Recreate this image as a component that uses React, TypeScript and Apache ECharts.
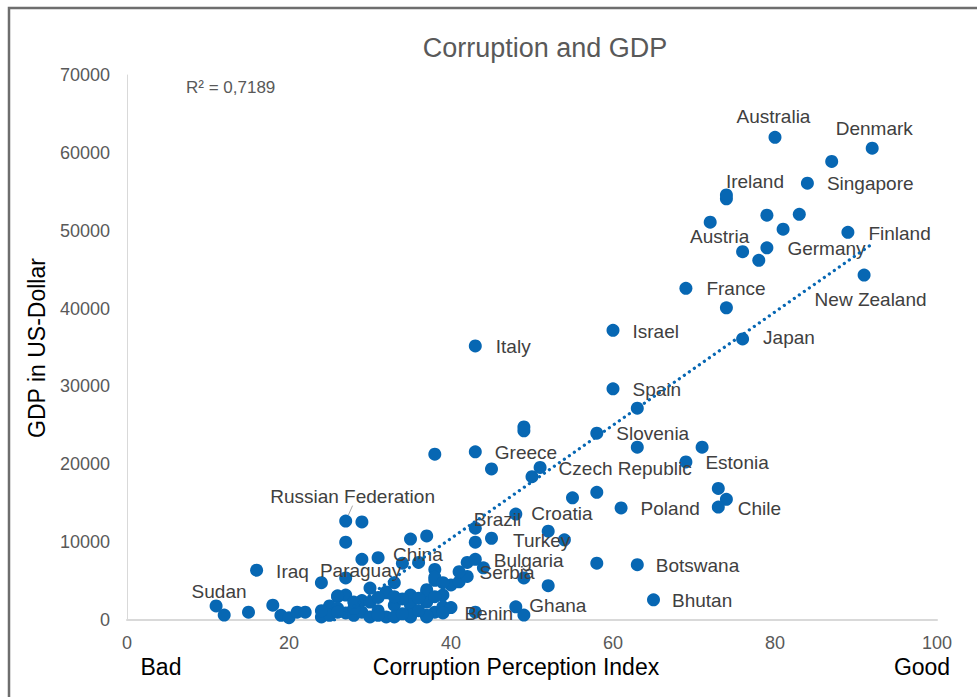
import React, { useEffect, useRef } from "react";
import * as echarts from "echarts";

// ---------- DATA ----------
const TITLE = "Corruption and GDP";
const R2_TEXT = "R² = 0,7189";
const X_NAME = "Corruption Perception Index";
const Y_NAME = "GDP in US-Dollar";
const X_LOW = "Bad";
const X_HIGH = "Good";

// labelled countries: [CPI, GDP per capita]
const labelledNames = [
  "Australia", "Denmark", "Singapore", "Ireland", "Austria", "Germany", "Finland",
  "New Zealand", "France", "Japan", "Israel", "Italy", "Spain", "Slovenia", "Greece",
  "Czech Republic", "Estonia", "Chile", "Poland", "Croatia", "Brazil", "Turkey",
  "Bulgaria", "Serbia", "Botswana", "Bhutan", "Ghana", "Benin", "China", "Paraguay",
  "Iraq", "Sudan", "Russian Federation",
];
const labelledCPI = [
  80, 92, 84, 74, 76, 79, 89,
  91, 69, 76, 60, 43, 60, 58, 43,
  51, 69, 73, 61, 48, 43, 45,
  43, 41, 63, 65, 48, 39, 36, 24,
  16, 11, 27,
];
const labelledGDP = [
  62000, 60600, 56100, 54600, 47300, 47800, 49800,
  44300, 42600, 36100, 37200, 35200, 29700, 24000, 21600,
  19600, 20300, 14500, 14400, 13600, 11800, 10500,
  7800, 6200, 7100, 2600, 1700, 900, 7400, 4800,
  6400, 1800, 12700,
];

// other countries (unlabelled)
const otherCPI = [
  87, 74, 72, 79, 83, 81, 78, 74, 63, 49, 49, 63, 71, 38, 45, 50, 73, 74, 58, 55,
  52, 54, 43, 42, 44, 49, 58, 52, 49, 43, 29, 27, 29, 31, 27, 30, 26, 27, 12, 15,
  18, 19, 20, 21, 22, 24, 25, 26, 35, 37, 34, 38, 38, 33, 32, 35, 37, 39, 40, 29,
  30, 33, 35, 37, 38, 39, 27, 28, 29, 30, 32, 35, 37, 37, 38, 32, 37, 39, 38, 39,
  35, 37, 33, 26, 25, 28, 31, 34, 36, 31, 33, 26, 28, 36, 34, 31, 40, 41, 42, 24,
];
const otherGDP = [
  58900, 54100, 51100, 52000, 52100, 50200, 46200, 40100, 27200, 24800, 24300, 22200, 22200, 21300, 19400, 18400, 16900, 15500, 16400, 15700,
  11400, 10300, 10000, 7400, 6700, 5400, 7300, 4400, 640, 1000, 12600, 10000, 7800, 8000, 5400, 4100, 3000, 3200, 640, 1000,
  1900, 600, 300, 1000, 1000, 400, 1800, 3100, 10400, 10800, 7300, 6500, 5100, 4800, 3600, 3200, 3600, 3200, 4500, 2500,
  2300, 1900, 1900, 2300, 1000, 1300, 900, 600, 1000, 400, 400, 400, 500, 400, 5500, 3500, 3900, 4800, 3000, 1700,
  600, 600, 400, 1500, 600, 1500, 1200, 2700, 2800, 2900, 3000, 1000, 2300, 1200, 800, 600, 1600, 4900, 5600, 1200,
];

// linear trendline endpoints
const trendCPI = [25.6, 92];
const trendGDP = [0, 48300];

const xTicks = { min: 0, max: 100, interval: 20 };
const yTicks = { min: 0, max: 70000, interval: 10000 };

// ---------- STYLE / LAYOUT ----------
const BLUE = "#0767b3";
const LABEL_FONT = "'Liberation Sans', Arial, sans-serif";
// label shifts (px) relative to the default "right" label position
const labelOffsets: Record<string, [number, number]> = {
  Australia: [-50, -21],
  Denmark: [-48, -20],
  Singapore: [8, 0],
  Ireland: [-12, -13],
  Austria: [-64, -15],
  Germany: [9, 1],
  Finland: [9, 1],
  "New Zealand": [-61, 24],
  France: [9, 0],
  Japan: [9, -1],
  Israel: [8, 1],
  Italy: [9, 1],
  Spain: [8, 1],
  Slovenia: [8, 0],
  Greece: [8, 1],
  "Czech Republic": [7, 1],
  Estonia: [8, 1],
  Chile: [8, 1],
  Poland: [8, 1],
  Croatia: [4, -1],
  Brazil: [-13, -9],
  Turkey: [10, 2],
  Bulgaria: [7, 1],
  Serbia: [9, 1],
  Botswana: [7, 1],
  Bhutan: [7, 1],
  Ghana: [2, -1],
  Benin: [10, 1],
  China: [-37, -8],
  Paraguay: [-13, -12],
  Iraq: [8, 1],
  Sudan: [-36, -14],
  "Russian Federation": [-87, -25],
};
const LEADER_NAME = "Russian Federation";

export default function App() {
  const ref = useRef<HTMLDivElement>(null);

  useEffect(() => {
    if (!ref.current) return;
    const chart = echarts.init(ref.current, undefined, { renderer: "svg" });

    const labelled = labelledNames.map((name, i) => ({
      name,
      value: [labelledCPI[i], labelledGDP[i]],
      label: {
        show: true,
        position: "right",
        distance: 5,
        formatter: name,
        color: "#404040",
        fontSize: 19,
        fontFamily: LABEL_FONT,
      },
      labelLine:
        name === LEADER_NAME
          ? { show: true, length2: 0, lineStyle: { color: "#a6a6a6", width: 1 } }
          : undefined,
    }));
    const others = otherCPI.map((x, i) => [x, otherGDP[i]]);

    chart.setOption({
      animation: false,
      backgroundColor: "#ffffff",
      grid: { left: 127, right: 40, top: 75, bottom: 77, containLabel: false },
      xAxis: {
        type: "value",
        min: xTicks.min,
        max: xTicks.max,
        interval: xTicks.interval,
        axisLine: { show: true, lineStyle: { color: "#d9d9d9", width: 2 } },
        axisTick: { show: false },
        splitLine: { show: false },
        axisLabel: {
          color: "#595959",
          fontSize: 18,
          fontFamily: LABEL_FONT,
          margin: 14,
        },
      },
      yAxis: {
        type: "value",
        min: yTicks.min,
        max: yTicks.max,
        interval: yTicks.interval,
        axisLine: { show: true, lineStyle: { color: "#d9d9d9", width: 1 } },
        axisTick: { show: false },
        splitLine: { show: false },
        axisLabel: {
          color: "#595959",
          fontSize: 18,
          fontFamily: LABEL_FONT,
          margin: 17,
          formatter: (v: number) => String(v),
        },
      },
      series: [
        {
          type: "scatter",
          symbolSize: 13,
          itemStyle: { color: BLUE, opacity: 1 },
          data: others,
          z: 2,
        },
        {
          type: "scatter",
          symbolSize: 13,
          itemStyle: { color: BLUE, opacity: 1 },
          data: labelled,
          labelLayout: (p: any) => {
            const o = labelOffsets[labelledNames[p.dataIndex]] || [0, 0];
            return { dx: o[0], dy: o[1] };
          },
          z: 3,
        },
        {
          type: "line",
          data: trendCPI.map((x, i) => [x, trendGDP[i]]),
          symbol: "none",
          lineStyle: { color: BLUE, width: 3.2, type: [0.1, 6], cap: "round" },
          z: 4,
          silent: true,
        },
      ],
      graphic: [
        {
          type: "rect",
          shape: { x: 9, y: 8, width: 1000, height: 720 },
          style: { fill: "none", stroke: "#6e6e6e", lineWidth: 2.5 },
          silent: true,
          z: -1,
        },
        {
          type: "text",
          x: 545,
          y: 48,
          style: {
            text: TITLE,
            align: "center",
            verticalAlign: "middle",
            fill: "#595959",
            fontSize: 27,
            fontFamily: LABEL_FONT,
          },
        },
        {
          type: "text",
          x: 186,
          y: 87,
          style: {
            text: R2_TEXT,
            align: "left",
            verticalAlign: "middle",
            fill: "#595959",
            fontSize: 17,
            fontFamily: LABEL_FONT,
          },
        },
        {
          type: "text",
          x: 37,
          y: 348,
          rotation: Math.PI / 2,
          style: {
            text: Y_NAME,
            align: "center",
            verticalAlign: "middle",
            fill: "#000000",
            fontSize: 23,
            fontFamily: LABEL_FONT,
          },
        },
        {
          type: "text",
          x: 516,
          y: 667,
          style: {
            text: X_NAME,
            align: "center",
            verticalAlign: "middle",
            fill: "#000000",
            fontSize: 23,
            fontFamily: LABEL_FONT,
          },
        },
        {
          type: "text",
          x: 161,
          y: 667,
          style: {
            text: X_LOW,
            align: "center",
            verticalAlign: "middle",
            fill: "#000000",
            fontSize: 23,
            fontFamily: LABEL_FONT,
          },
        },
        {
          type: "text",
          x: 922,
          y: 667,
          style: {
            text: X_HIGH,
            align: "center",
            verticalAlign: "middle",
            fill: "#000000",
            fontSize: 23,
            fontFamily: LABEL_FONT,
          },
        },
      ],
    });

    return () => chart.dispose();
  }, []);

  return (
    <div
      ref={ref}
      style={{ position: "fixed", left: 0, top: 0, width: 977, height: 697 }}
    />
  );
}
